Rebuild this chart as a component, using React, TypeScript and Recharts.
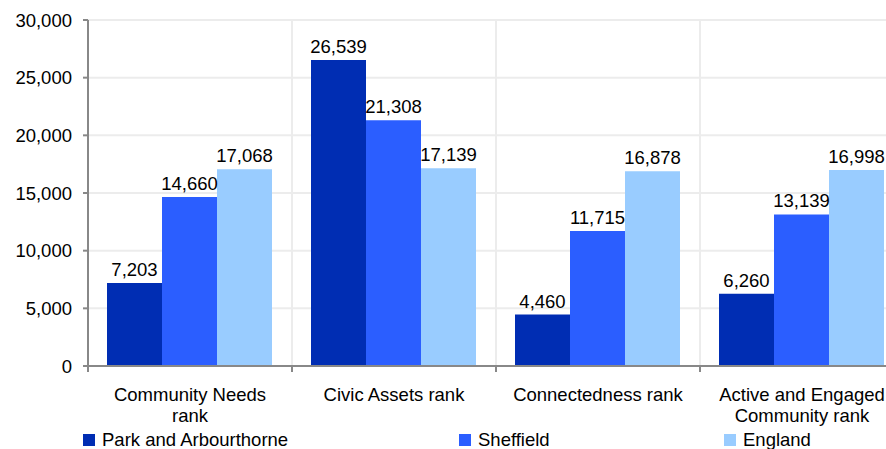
import React from "react";
import { BarChart, Bar, XAxis, YAxis, CartesianGrid, LabelList } from "recharts";

const categories = [
  "Community Needs rank",
  "Civic Assets rank",
  "Connectedness rank",
  "Active and Engaged Community rank",
];
const parkValues = [7203, 26539, 4460, 6260];
const sheffieldValues = [14660, 21308, 11715, 13139];
const englandValues = [17068, 17139, 16878, 16998];
const yTicks = [0, 5000, 10000, 15000, 20000, 25000, 30000];

const seriesNames = ["Park and Arbourthorne", "Sheffield", "England"];
const seriesColors = ["#002DB3", "#2B5EFF", "#99CCFF"];

const data = categories.map((c, i) => ({
  name: c,
  park: parkValues[i],
  sheffield: sheffieldValues[i],
  england: englandValues[i],
}));

const FONT = "'Liberation Sans', Arial, sans-serif";
const FS = 18.5;
const fmt = (v: number) => v.toLocaleString("en-US");

const wrap = (s: string, maxChars: number) => {
  const words = s.split(" ");
  const lines: string[] = [];
  let cur = "";
  words.forEach((w) => {
    const next = cur ? cur + " " + w : w;
    if (next.length > maxChars && cur) {
      lines.push(cur);
      cur = w;
    } else cur = next;
  });
  if (cur) lines.push(cur);
  return lines;
};

const XTick = (props: any) => {
  const { x, y, payload } = props;
  const half = payload && payload.offset ? payload.offset : 102;
  const axisY = y - 22;
  const lines = wrap(String(payload.value), 18);
  return (
    <g>
      <line x1={x - half} y1={axisY} x2={x - half} y2={axisY + 6} stroke="#888" strokeWidth={2} />
      <line x1={x + half} y1={axisY} x2={x + half} y2={axisY + 6} stroke="#888" strokeWidth={2} />
      <text x={x} y={y + 13} textAnchor="middle" fontSize={FS} fontFamily={FONT} fill="#000">
        {lines.map((l, i) => (
          <tspan key={i} x={x} dy={i === 0 ? 0 : 21}>
            {l}
          </tspan>
        ))}
      </text>
    </g>
  );
};

const keys = ["park", "sheffield", "england"];

export default function App() {
  return (
    <div
      style={{
        position: "absolute",
        left: 0,
        top: 0,
        width: 886,
        height: 449,
        overflow: "hidden",
        background: "#fff",
        fontFamily: FONT,
      }}
    >
      <BarChart
        width={904}
        height={449}
        data={data}
        margin={{ top: 20, right: 0, left: 0, bottom: 0 }}
        barCategoryGap={19}
        barGap={0}
      >
        <CartesianGrid
          stroke="#ececec"
          strokeWidth={2}
          verticalCoordinatesGenerator={({ offset }: any) =>
            [0, 1, 2, 3, 4].map((i) => offset.left + (i * offset.width) / categories.length)
          }
        />
        <XAxis
          dataKey="name"
          height={83}
          interval={0}
          tickLine={false}
          tickSize={6}
          tickMargin={16}
          axisLine={{ stroke: "#888", strokeWidth: 2 }}
          tick={<XTick />}
        />
        <YAxis
          width={88}
          domain={[0, 30000]}
          ticks={yTicks}
          tickFormatter={fmt}
          tickSize={5}
          tickMargin={11}
          axisLine={{ stroke: "#888", strokeWidth: 2 }}
          tickLine={{ stroke: "#888", strokeWidth: 2 }}
          tick={{ fill: "#000", fontSize: FS, fontFamily: FONT }}
        />
        {keys.map((k, i) => (
          <Bar key={k} dataKey={k} name={seriesNames[i]} fill={seriesColors[i]} isAnimationActive={false}>
            <LabelList
              dataKey={k}
              position="top"
              offset={7}
              formatter={(v: any) => fmt(Number(v))}
              style={{ fill: "#000", fontSize: FS, fontFamily: FONT }}
            />
          </Bar>
        ))}
      </BarChart>
      {seriesNames.map((n, i) => (
        <div
          key={n}
          style={{
            position: "absolute",
            left: [83, 459, 724][i],
            top: 429,
            height: 22,
            display: "flex",
            alignItems: "center",
            fontSize: FS,
            fontFamily: FONT,
            color: "#000",
            whiteSpace: "nowrap",
          }}
        >
          <span
            style={{
              display: "inline-block",
              width: 12,
              height: 12,
              background: seriesColors[i],
              marginRight: 7,
            }}
          />
          {n}
        </div>
      ))}
    </div>
  );
}
